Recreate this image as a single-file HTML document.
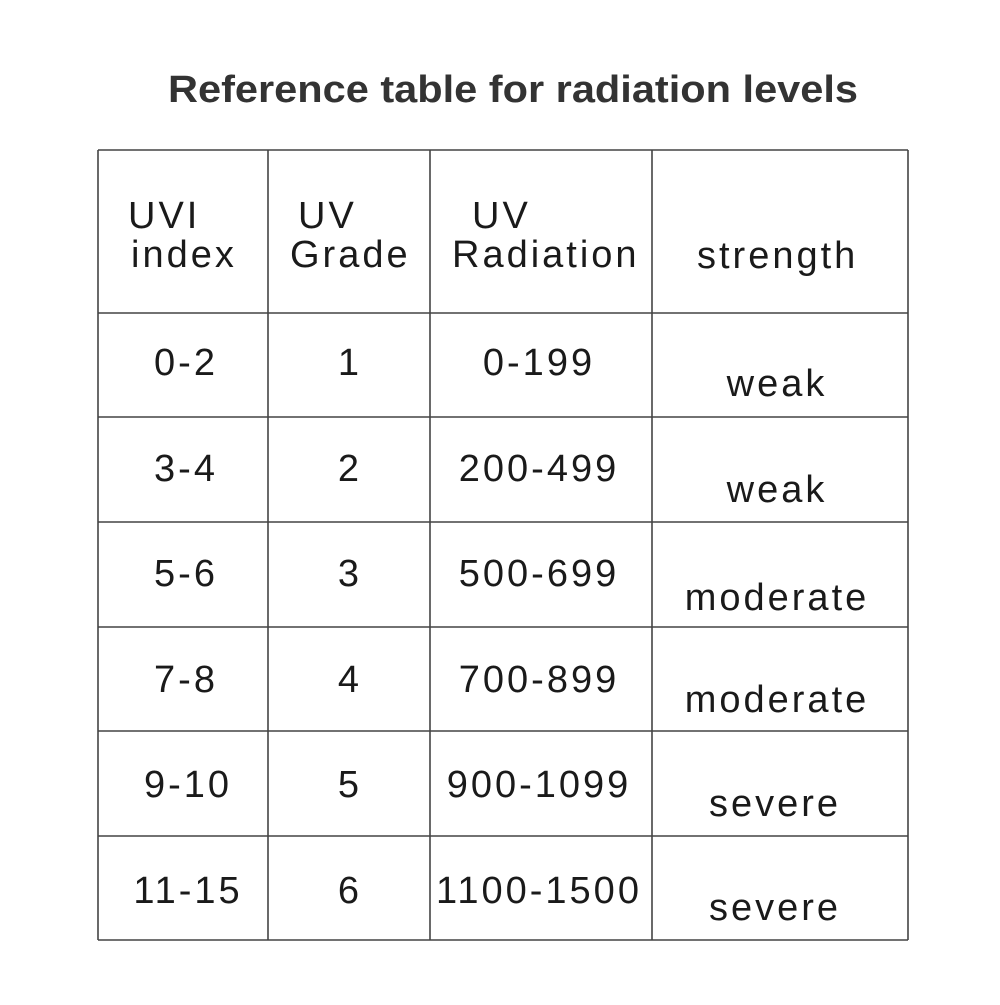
<!DOCTYPE html>
<html><head><style>body{margin:0;background:#fff}</style></head><body>
<svg width="1000" height="1000" viewBox="0 0 1000 1000" xmlns="http://www.w3.org/2000/svg" font-family="Liberation Sans, sans-serif" fill="#1a1a1a">
<rect width="1000" height="1000" fill="#fff"/>
<text x="168" y="102" font-size="38" font-weight="bold" fill="#333" textLength="690" lengthAdjust="spacingAndGlyphs">Reference table for radiation levels</text>
<g stroke="#444" stroke-width="1.6">
<line x1="98" y1="150" x2="98" y2="940"/>
<line x1="268" y1="150" x2="268" y2="940"/>
<line x1="430" y1="150" x2="430" y2="940"/>
<line x1="652" y1="150" x2="652" y2="940"/>
<line x1="908" y1="150" x2="908" y2="940"/>
<line x1="98" y1="150" x2="908" y2="150"/>
<line x1="98" y1="313" x2="908" y2="313"/>
<line x1="98" y1="417" x2="908" y2="417"/>
<line x1="98" y1="522" x2="908" y2="522"/>
<line x1="98" y1="627" x2="908" y2="627"/>
<line x1="98" y1="731" x2="908" y2="731"/>
<line x1="98" y1="836" x2="908" y2="836"/>
<line x1="98" y1="940" x2="908" y2="940"/>
</g>
<g font-size="38" letter-spacing="3">
<text x="128" y="228">UVI</text>
<text x="131" y="267">index</text>
<text x="298" y="228">UV</text>
<text x="290" y="267">Grade</text>
<text x="472" y="228">UV</text>
<text x="452" y="267">Radiation</text>
<text x="697" y="268">strength</text>
</g>
<g font-size="38" letter-spacing="3" text-anchor="middle">
<text x="186" y="375">0-2</text><text x="350" y="375">1</text><text x="539" y="375">0-199</text><text x="777" y="396">weak</text>
<text x="186" y="481">3-4</text><text x="350" y="481">2</text><text x="539" y="481">200-499</text><text x="777" y="502">weak</text>
<text x="186" y="586">5-6</text><text x="350" y="586">3</text><text x="539" y="586">500-699</text><text x="777" y="610">moderate</text>
<text x="186" y="692">7-8</text><text x="350" y="692">4</text><text x="539" y="692">700-899</text><text x="777" y="712">moderate</text>
<text x="188" y="797">9-10</text><text x="350" y="797">5</text><text x="539" y="797">900-1099</text><text x="775" y="816">severe</text>
<text x="188" y="903">11-15</text><text x="350" y="903">6</text><text x="539" y="903">1100-1500</text><text x="775" y="920">severe</text>
</g>
</svg>
</body></html>
